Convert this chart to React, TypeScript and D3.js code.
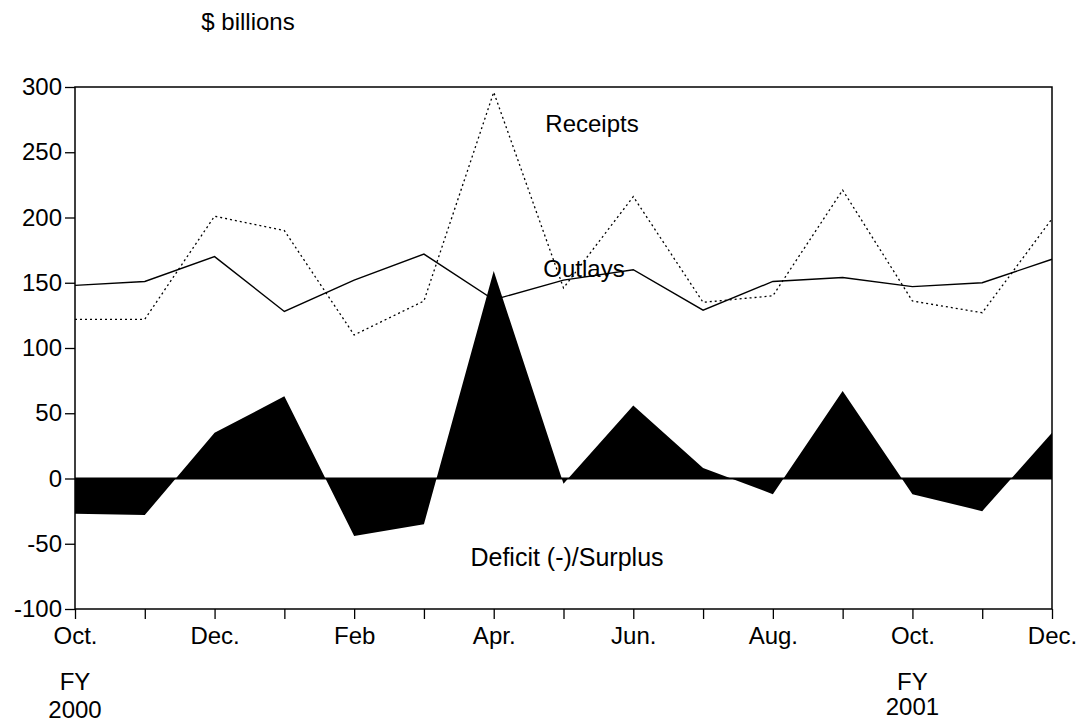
import React, { useEffect, useRef } from "react";
import * as d3 from "d3";

const months = ["Oct.", "Nov.", "Dec.", "Jan.", "Feb", "Mar.", "Apr.", "May", "Jun.", "Jul.", "Aug.", "Sep.", "Oct.", "Nov.", "Dec."];
const outlays = [148, 151, 170, 128, 152, 172, 137, 152, 160, 129, 151, 154, 147, 150, 168];
const receipts = [122, 122, 201, 190, 110, 136, 296, 146, 216, 135, 140, 221, 136, 127, 199];
const balance = [-27, -28, 35, 63, -44, -35, 159, -4, 56, 8, -12, 67, -12, -25, 35];
const yTicks = [-100, -50, 0, 50, 100, 150, 200, 250, 300];

export default function App() {
	const svgRef = useRef<SVGSVGElement>(null);

	useEffect(() => {
		if (!svgRef.current) return;
		const svg = d3.select(svgRef.current);
		svg.selectAll("*").remove();

		const left = 75;
		const right = 1052;
		const top = 87;
		const bottom = 609;
		const font = "'Liberation Sans', Arial, sans-serif";
		const fs = 24;

		const x = d3
			.scalePoint()
			.domain(months.map((m, i) => String(i)))
			.range([left, right]);
		const y = d3.scaleLinear().domain([-100, 300]).range([bottom, top]);

		const idx = months.map((m, i) => i);

		// deficit / surplus area
		const area = d3
			.area<number>()
			.x((i) => x(String(i)) as number)
			.y0(y(0))
			.y1((i) => y(balance[i]));
		svg.append("path").datum(idx).attr("d", area).attr("fill", "#000");

		svg
			.append("line")
			.attr("x1", left)
			.attr("x2", right)
			.attr("y1", y(0))
			.attr("y2", y(0))
			.attr("stroke", "#000")
			.attr("stroke-width", 2);

		const line = (vals: number[]) =>
			d3
				.line<number>()
				.x((i) => x(String(i)) as number)
				.y((i) => y(vals[i]))(idx);

		svg
			.append("path")
			.attr("d", line(receipts))
			.attr("fill", "none")
			.attr("stroke", "#000")
			.attr("stroke-width", 1.3)
			.attr("stroke-dasharray", "2,3");

		svg
			.append("path")
			.attr("d", line(outlays))
			.attr("fill", "none")
			.attr("stroke", "#000")
			.attr("stroke-width", 1.4);

		// frame
		svg
			.append("rect")
			.attr("x", left)
			.attr("y", top)
			.attr("width", right - left)
			.attr("height", bottom - top)
			.attr("fill", "none")
			.attr("stroke", "#000")
			.attr("stroke-width", 1.5);

		// y axis
		const yAxis = d3
			.axisLeft(y)
			.tickValues(yTicks)
			.tickSize(10)
			.tickPadding(3)
			.tickFormat((d) => String(d));
		const yg = svg.append("g").attr("transform", `translate(${left},0)`).call(yAxis);
		yg.select(".domain").remove();
		yg.selectAll("line").attr("stroke-width", 1.3);
		yg.selectAll("text").attr("font-family", font).attr("font-size", fs).attr("fill", "#000");

		// x axis
		const xAxis = d3
			.axisBottom(x)
			.tickSize(10)
			.tickPadding(8)
			.tickFormat((d) => (+d % 2 === 0 ? months[+d] : ""));
		const xg = svg.append("g").attr("transform", `translate(0,${bottom})`).call(xAxis);
		xg.select(".domain").remove();
		xg.selectAll("line").attr("stroke-width", 1.3);
		xg.selectAll("text").attr("font-family", font).attr("font-size", fs).attr("fill", "#000");

		const label = (t: string, lx: number, ly: number, size = fs) =>
			svg
				.append("text")
				.attr("x", lx)
				.attr("y", ly)
				.attr("text-anchor", "middle")
				.attr("font-family", font)
				.attr("font-size", size)
				.attr("fill", "#000")
				.text(t);

		label("$ billions", 248, 30);
		label("Receipts", 592, 132);
		label("Outlays", 584, 277);
		label("Deficit (-)/Surplus", 567, 566, 25);
		label("FY", x("0") as number, 690);
		label("2000", x("0") as number, 718);
		label("FY", x("12") as number, 690);
		label("2001", x("12") as number, 715);
	}, []);

	return (
		<div>
			<svg
				ref={svgRef}
				width={1079}
				height={723}
				style={{ position: "absolute", left: 0, top: 0, background: "#fff" }}
			></svg>
		</div>
	);
}
